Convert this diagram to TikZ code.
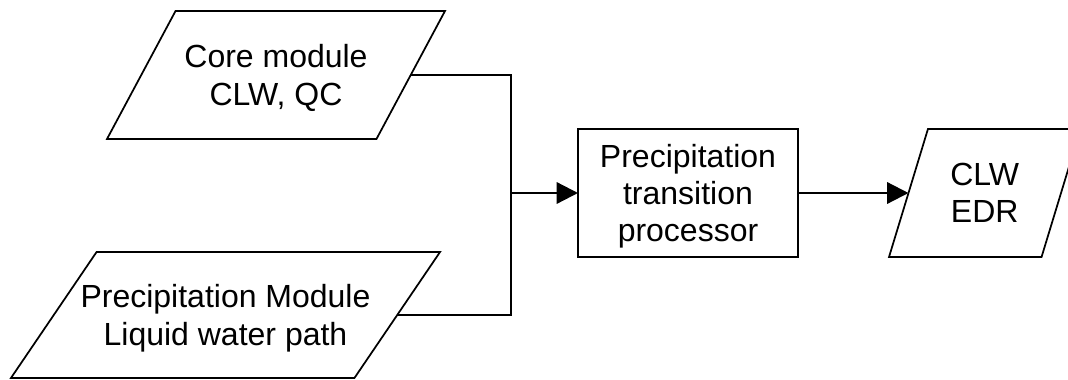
\documentclass[tikz,border=0pt]{standalone}
\usepackage{fontspec}
\setmainfont{Liberation Sans}
\usetikzlibrary{arrows.meta}
\def\slantbox(#1)(#2){\draw[line width=1.3pt] ([xshift=-#2]#1.south west) -- ([xshift=#2]#1.north west) -- ([xshift=#2]#1.north east) -- ([xshift=-#2]#1.south east) -- cycle;}

\begin{document}
\begin{tikzpicture}[x=0.75pt,y=-0.75pt,
		datain/.style={rectangle, outer sep=0pt, inner sep=0pt, align=center},
		procbox/.style={rectangle, draw, line width=1.7pt, outer sep=0pt,
			inner sep=0pt, align=center, minimum width=165pt, minimum height=96pt},
		link/.style={line width=1.7pt},
		every node/.style={font=\fontsize{24}{28}\selectfont, text depth=-3pt}]
		%%%%% START %%%%%
		\useasboundingbox (0, 0) rectangle (1068, 379);
		
		\node[datain, minimum width=202.1pt, minimum height=96pt] (core) at (276, 75) {Core module\\CLW, QC};
		\slantbox(core)(25.7pt);
		\node[datain, minimum width=257.6pt, minimum height=94.5pt] (precmod) at (225.5, 315) {Precipitation Module\\Liquid water path};
		\slantbox(precmod)(32.1pt);
		
		\node[procbox] (proc) at (688, 193) {Precipitation\\transition\\processor};
		\node[datain, minimum width=114.4pt, minimum height=96pt] (result) at (984.75, 193) {CLW\\EDR};
		\slantbox(result)(14.6pt);
		
		\coordinate (join) at (511, 193);
		\draw[link] (core.east) -| (join);
		\draw[link] (precmod.east) -| (join);
		\draw[link, -{Triangle[length=16pt, width=16pt]}] (join) -- (proc.west);
		\draw[link, -{Triangle[length=16pt, width=16pt]}] (proc.east) -- (result.west);
		%%%%% END %%%%%
	\end{tikzpicture}
\end{document}
